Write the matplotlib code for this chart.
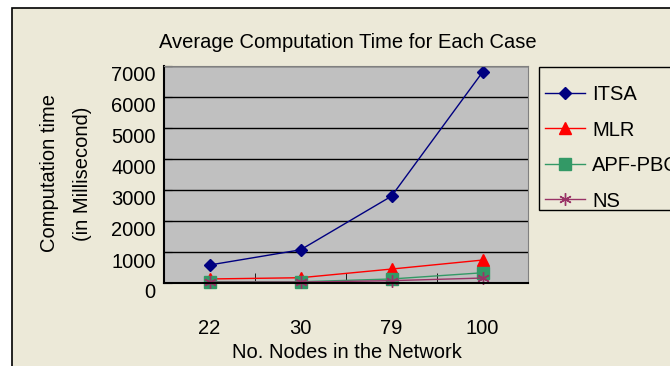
import matplotlib
matplotlib.use('Agg')
import matplotlib.pyplot as plt
import matplotlib.transforms as mtransforms
from matplotlib.patches import Rectangle
import numpy as np

# data
nodes = ['22', '30', '79', '100']
itsa = [580, 1070, 2800, 6800]
mlr = [130, 170, 450, 740]
apf_pbc = [40, 40, 130, 330]
ns = [25, 30, 75, 160]

plt.rcParams['font.family'] = ['Liberation Sans', 'DejaVu Sans']
FS = 14.5

BG = '#ECE9D8'
fig = plt.figure(figsize=(6.7, 3.66), dpi=100, facecolor='white')

# chart area frame (cropped at right/bottom like the reference)
fig.patches.append(Rectangle((11.5 / 670, -0.1), 1.2, 1 - 7.5 / 366 + 0.1,
                             transform=fig.transFigure, facecolor=BG,
                             edgecolor='black', lw=1.2, zorder=-10))
# legend box, drawn by hand so the entries can sit like Excel's
fig.patches.append(Rectangle((538.5 / 670, 1 - 209.5 / 366), 0.3, 143 / 366,
                             transform=fig.transFigure, facecolor=BG,
                             edgecolor='black', lw=1, zorder=-5))

ax = fig.add_axes([164 / 670, 1 - 283 / 366, 364 / 670, 217 / 366])
ax.set_facecolor('#C0C0C0')

xs = np.arange(len(nodes))
ax.plot(xs, itsa, color='#000080', lw=1, marker='D', ms=6, label='ITSA')
ax.plot(xs, mlr, color='#FF0000', lw=1, marker='^', ms=8, label='MLR')
ax.plot(xs, apf_pbc, color='#339966', lw=1, marker='s', ms=9, label='APF-PBC')
ax.plot(xs, ns, color='#993366', lw=1, marker=(6, 2, 0), ms=9, mew=1, label='NS')

for i in ax.get_lines():
    i.set_clip_on(False)

ax.set_xlim(-0.5, len(nodes) - 0.5)
ax.set_ylim(0, 7000)
ax.set_yticks(np.arange(0, 7001, 1000))
ax.yaxis.grid(True, color='black', lw=1)
ax.set_axisbelow(True)

ax.set_xticks(xs)
ax.set_xticklabels(nodes, fontsize=FS)
ax.set_xticks(np.arange(0.5, len(nodes) - 1, 1), minor=True)
ax.tick_params(axis='x', which='major', length=0, pad=26)
ax.tick_params(axis='x', which='minor', direction='in', length=7, color='black')
ax.tick_params(axis='y', direction='in', length=6, labelsize=FS, pad=6)

# Excel draws the value labels a bit below their gridlines
shift = mtransforms.ScaledTranslation(0, -8 / 100, fig.dpi_scale_trans)
for lab in ax.get_yticklabels():
    lab.set_transform(lab.get_transform() + shift)

for side in ['top', 'right']:
    ax.spines[side].set_color('#808080')
for side in ['left', 'bottom']:
    ax.spines[side].set_color('black')
    ax.spines[side].set_linewidth(1.5)

fig.text(348 / 670, 1 - 43 / 366, 'Average Computation Time for Each Case',
         ha='center', va='center', fontsize=FS)
fig.text(50 / 670, 1 - 173 / 366, 'Computation time', rotation=90,
         ha='center', va='center', fontsize=FS)
fig.text(82 / 670, 1 - 174 / 366, '(in Millisecond)', rotation=90,
         ha='center', va='center', fontsize=FS)
fig.text(347 / 670, 1 - 353 / 366, 'No. Nodes in the Network',
         ha='center', va='center', fontsize=FS)

leg = fig.legend(loc='upper left', bbox_to_anchor=(545 / 670, 1 - 85 / 366),
                 fontsize=FS, frameon=False, handlelength=2.0,
                 labelspacing=0.82, borderpad=0, handletextpad=0.35,
                 borderaxespad=0)

fig.savefig('out.png', dpi=100, facecolor='white')
